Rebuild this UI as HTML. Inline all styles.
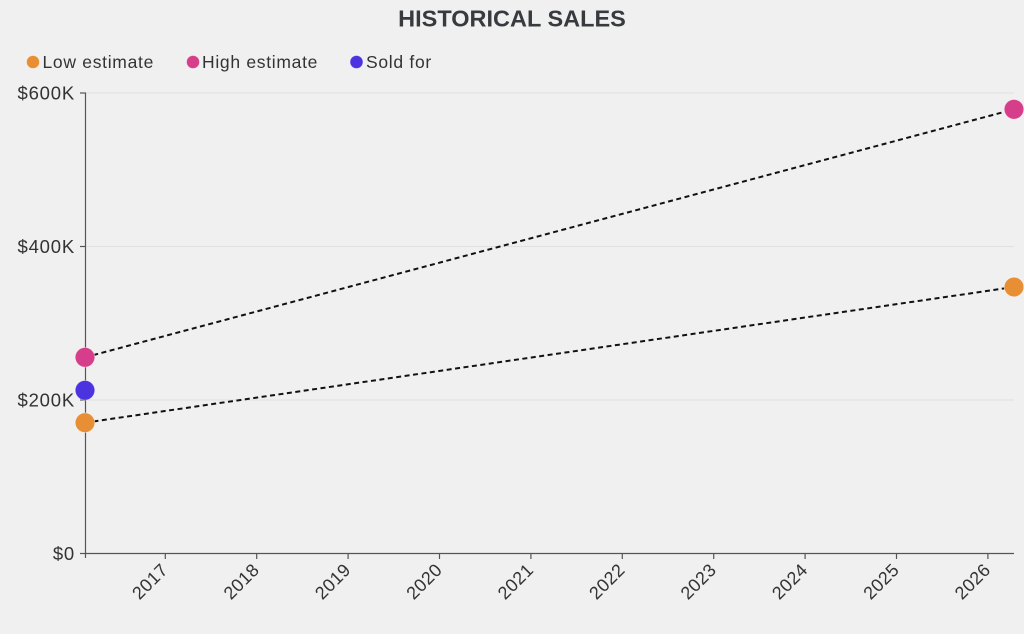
<!DOCTYPE html>
<html>
<head>
<meta charset="utf-8">
<style>
  html,body{margin:0;padding:0;background:#f0f0f0;}
  svg{display:block;}
  text{font-family:"Liberation Sans",Arial,sans-serif;}
</style>
</head>
<body>
<svg width="1024" height="634" viewBox="0 0 1024 634" xmlns="http://www.w3.org/2000/svg">
  <rect x="0" y="0" width="1024" height="634" fill="#f0f0f0"/>

  <!-- Title -->
  <text x="512" y="26.7" text-anchor="middle" font-size="23.5" font-weight="bold" fill="#373b3f">HISTORICAL SALES</text>

  <!-- Legend -->
  <g font-size="17.5" fill="#333" letter-spacing="0.7">
    <circle cx="33" cy="62" r="6.5" fill="#e88f35" stroke="#fff" stroke-opacity="0.5" stroke-width="0.8"/>
    <text x="42.5" y="68">Low estimate</text>
    <circle cx="193" cy="62" r="6.5" fill="#d63d8a" stroke="#fff" stroke-opacity="0.5" stroke-width="0.8"/>
    <text x="202" y="68">High estimate</text>
    <circle cx="356.5" cy="62" r="6.5" fill="#4b33df" stroke="#fff" stroke-opacity="0.5" stroke-width="0.8"/>
    <text x="366" y="68">Sold for</text>
  </g>

  <!-- Gridlines -->
  <g stroke="#e0e0e0" stroke-width="1">
    <line x1="85" y1="400" x2="1014" y2="400"/>
    <line x1="85" y1="246.5" x2="1014" y2="246.5"/>
    <line x1="85" y1="93" x2="1014" y2="93"/>
  </g>

  <!-- Y axis -->
  <g stroke="#555" stroke-width="1.2">
    <line x1="85.5" y1="92.5" x2="85.5" y2="558"/>
    <line x1="80" y1="553.5" x2="85.5" y2="553.5"/>
    <line x1="80" y1="400" x2="85.5" y2="400"/>
    <line x1="80" y1="246.5" x2="85.5" y2="246.5"/>
    <line x1="80" y1="93" x2="85.5" y2="93"/>
  </g>
  <g font-size="18.5" fill="#333" text-anchor="end" letter-spacing="0.8">
    <text x="75" y="99.5">$600K</text>
    <text x="75" y="253">$400K</text>
    <text x="75" y="406.5">$200K</text>
    <text x="75" y="560">$0</text>
  </g>

  <!-- X axis -->
  <g stroke="#555" stroke-width="1.2">
    <line x1="85.5" y1="553.5" x2="1014" y2="553.5"/>
    <line x1="165.3" y1="553.5" x2="165.3" y2="559"/>
    <line x1="256.7" y1="553.5" x2="256.7" y2="559"/>
    <line x1="348.1" y1="553.5" x2="348.1" y2="559"/>
    <line x1="439.5" y1="553.5" x2="439.5" y2="559"/>
    <line x1="530.9" y1="553.5" x2="530.9" y2="559"/>
    <line x1="622.3" y1="553.5" x2="622.3" y2="559"/>
    <line x1="713.7" y1="553.5" x2="713.7" y2="559"/>
    <line x1="805.1" y1="553.5" x2="805.1" y2="559"/>
    <line x1="896.5" y1="553.5" x2="896.5" y2="559"/>
    <line x1="987.9" y1="553.5" x2="987.9" y2="559"/>
  </g>
  <g font-size="18" fill="#333" text-anchor="end" letter-spacing="0.4">
    <text transform="translate(169,571) rotate(-45)">2017</text>
    <text transform="translate(260.4,571) rotate(-45)">2018</text>
    <text transform="translate(351.8,571) rotate(-45)">2019</text>
    <text transform="translate(443.2,571) rotate(-45)">2020</text>
    <text transform="translate(534.6,571) rotate(-45)">2021</text>
    <text transform="translate(626,571) rotate(-45)">2022</text>
    <text transform="translate(717.4,571) rotate(-45)">2023</text>
    <text transform="translate(808.8,571) rotate(-45)">2024</text>
    <text transform="translate(900.2,571) rotate(-45)">2025</text>
    <text transform="translate(991.6,571) rotate(-45)">2026</text>
  </g>

  <!-- Dashed trend lines -->
  <g stroke="#111" stroke-width="2" stroke-dasharray="5,3.5" fill="none">
    <line x1="85" y1="357.3" x2="1014" y2="109.3"/>
    <line x1="85" y1="422.7" x2="1014" y2="287"/>
  </g>

  <!-- Points -->
  <g stroke="#fff" stroke-opacity="0.5" stroke-width="0.8">
    <circle cx="85" cy="357.3" r="9.8" fill="#d63d8a"/>
    <circle cx="85" cy="390.3" r="9.8" fill="#4b33df"/>
    <circle cx="85" cy="422.7" r="9.8" fill="#e88f35"/>
    <circle cx="1014" cy="109.3" r="9.8" fill="#d63d8a"/>
    <circle cx="1014" cy="287" r="9.8" fill="#e88f35"/>
  </g>
</svg>
</body>
</html>
